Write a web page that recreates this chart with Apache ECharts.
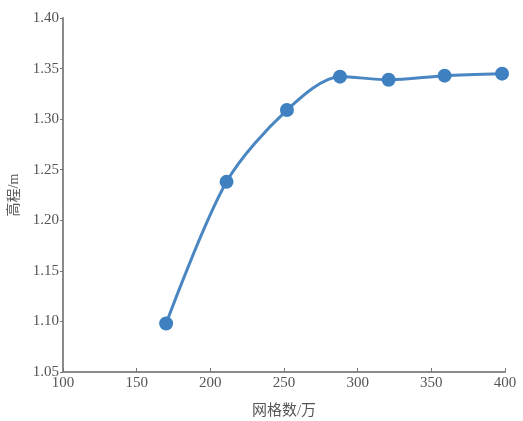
<!DOCTYPE html>
<html><head><meta charset="utf-8">
<script src="https://cdn.jsdelivr.net/npm/echarts@6/dist/echarts.min.js"></script>
<style>html,body{margin:0;padding:0;background:#fff}#c{width:523px;height:421px}</style>
</head><body><div id="c"></div>
<script>
var gridCounts = [170, 211, 252, 288, 321, 359, 398];
var elevations = [1.098, 1.238, 1.309, 1.342, 1.339, 1.343, 1.345];
var xTicks = [100, 150, 200, 250, 300, 350, 400];
var yTicks = [1.05, 1.10, 1.15, 1.20, 1.25, 1.30, 1.35, 1.40];
var xName = '网格数/万';
var yName = '高程/m';

var font = '"Liberation Serif","Noto Sans CJK SC",serif';
var chart = echarts.init(document.getElementById('c'));
chart.setOption({
  animation: false,
  grid: {left: 63, right: 18, top: 18, bottom: 49, containLabel: false, outerBoundsMode: 'none'},
  xAxis: {
    type: 'value', min: xTicks[0], max: xTicks[xTicks.length-1], interval: 50,
    name: xName, nameLocation: 'middle', nameGap: 32,
    nameTextStyle: {fontFamily: font, fontSize: 15, color: '#555'},
    axisLine: {lineStyle: {color: '#8a8a8a', width: 2}},
    axisTick: {inside: true, length: 4, lineStyle: {color: '#777'}},
    axisLabel: {fontFamily: font, fontSize: 15, color: '#555', margin: 4},
    splitLine: {show: false}
  },
  yAxis: {
    type: 'value', min: yTicks[0], max: yTicks[yTicks.length-1], interval: 0.05,
    name: yName, nameLocation: 'middle', nameGap: 42,
    nameTextStyle: {fontFamily: font, fontSize: 14, color: '#555'},
    axisLine: {show: true, lineStyle: {color: '#8a8a8a', width: 2}},
    axisTick: {show: true, length: 3, lineStyle: {color: '#777'}},
    axisLabel: {fontFamily: font, fontSize: 15, color: '#555', margin: 4,
      formatter: function(v){return v.toFixed(2);}},
    splitLine: {show: false}
  },
  series: [{
    type: 'line', smooth: 0.3,
    data: gridCounts.map(function(x,i){return [x, elevations[i]];}),
    symbol: 'circle', symbolSize: 14,
    lineStyle: {color: '#4a86c2', width: 3},
    itemStyle: {color: '#3f80c0'}
  }]
});
</script></body></html>
